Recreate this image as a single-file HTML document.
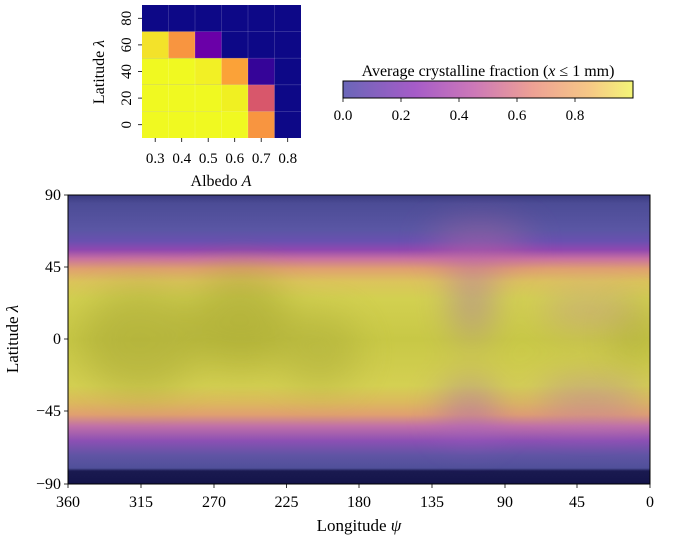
<!DOCTYPE html>
<html><head><style>
body{margin:0;background:#fff;width:684px;height:538px;overflow:hidden;font-family:"Liberation Serif",serif;}
</style></head><body>
<svg width="684" height="538" xmlns="http://www.w3.org/2000/svg" font-family="Liberation Serif, serif" fill="#000">
<defs>
<linearGradient id="cb" x1="0" x2="1" y1="0" y2="0">
<stop offset="0" stop-color="#6a66b8"/><stop offset="0.25" stop-color="#a65cc8"/><stop offset="0.45" stop-color="#cc78b8"/><stop offset="0.65" stop-color="#eda095"/><stop offset="0.85" stop-color="#f6c886"/><stop offset="1" stop-color="#f4f678"/>
</linearGradient>
<linearGradient id="lat" x1="0" x2="0" y1="0" y2="1">
<stop offset="0" stop-color="#3a3a80"/>
<stop offset="0.03" stop-color="#4c4c96"/>
<stop offset="0.12" stop-color="#5a56a4"/>
<stop offset="0.16" stop-color="#6a50b0"/>
<stop offset="0.19" stop-color="#9048b0"/>
<stop offset="0.22" stop-color="#c870a0"/>
<stop offset="0.255" stop-color="#e0a070"/>
<stop offset="0.3" stop-color="#dcc45c"/>
<stop offset="0.36" stop-color="#d2d050"/>
<stop offset="0.5" stop-color="#c8c846"/>
<stop offset="0.66" stop-color="#d4d052"/>
<stop offset="0.72" stop-color="#dcb85e"/>
<stop offset="0.76" stop-color="#e0a070"/>
<stop offset="0.8" stop-color="#c070a8"/>
<stop offset="0.85" stop-color="#8c50b4"/>
<stop offset="0.9" stop-color="#6054a4"/>
<stop offset="0.945" stop-color="#50509a"/>
<stop offset="0.955" stop-color="#1a1a50"/>
<stop offset="1" stop-color="#14144a"/>
</linearGradient>
<filter id="bl" x="-50%" y="-50%" width="200%" height="200%"><feGaussianBlur stdDeviation="18"/></filter>
<clipPath id="mc"><rect x="68" y="195" width="582" height="289"/></clipPath>
</defs>

<g>
<rect x="142" y="5" width="159" height="133" fill="#0d0887"/>
<rect x="142" y="31.6" width="26.5" height="26.6" fill="#f3e22a"/>
<rect x="168.5" y="31.6" width="26.5" height="26.6" fill="#f89540"/>
<rect x="195" y="31.6" width="26.5" height="26.6" fill="#6a00a8"/>
<rect x="142" y="58.2" width="26.5" height="26.6" fill="#f0f921"/>
<rect x="168.5" y="58.2" width="26.5" height="26.6" fill="#f0f921"/>
<rect x="195" y="58.2" width="26.5" height="26.6" fill="#f2f025"/>
<rect x="221.5" y="58.2" width="26.5" height="26.6" fill="#fba238"/>
<rect x="248" y="58.2" width="26.5" height="26.6" fill="#350498"/>
<rect x="142" y="84.8" width="106" height="26.6" fill="#f0f921"/>
<rect x="221.5" y="84.8" width="26.5" height="26.6" fill="#f0f022"/>
<rect x="248" y="84.8" width="26.5" height="26.6" fill="#d8576b"/>
<rect x="142" y="111.4" width="106" height="26.6" fill="#f0f921"/>
<rect x="248" y="111.4" width="26.5" height="26.6" fill="#f89540"/>
<g stroke="#fff" stroke-opacity="0.25" stroke-width="0.6">
<line x1="168.5" y1="5" x2="168.5" y2="138"/><line x1="195" y1="5" x2="195" y2="138"/><line x1="221.5" y1="5" x2="221.5" y2="138"/><line x1="248" y1="5" x2="248" y2="138"/><line x1="274.5" y1="5" x2="274.5" y2="138"/>
<line x1="142" y1="31.6" x2="301" y2="31.6"/><line x1="142" y1="58.2" x2="301" y2="58.2"/><line x1="142" y1="84.8" x2="301" y2="84.8"/><line x1="142" y1="111.4" x2="301" y2="111.4"/>
</g>
<g stroke="#000" stroke-width="0.8">
<line x1="138" y1="18.3" x2="142" y2="18.3"/><line x1="138" y1="44.9" x2="142" y2="44.9"/><line x1="138" y1="71.5" x2="142" y2="71.5"/><line x1="138" y1="98.1" x2="142" y2="98.1"/><line x1="138" y1="124.7" x2="142" y2="124.7"/>
<line x1="155.2" y1="138" x2="155.2" y2="142"/><line x1="181.7" y1="138" x2="181.7" y2="142"/><line x1="208.2" y1="138" x2="208.2" y2="142"/><line x1="234.7" y1="138" x2="234.7" y2="142"/><line x1="261.2" y1="138" x2="261.2" y2="142"/><line x1="287.7" y1="138" x2="287.7" y2="142"/>
</g>
<g font-size="15" text-anchor="middle">
<text transform="translate(131,18.3) rotate(-90)">80</text>
<text transform="translate(131,44.9) rotate(-90)">60</text>
<text transform="translate(131,71.5) rotate(-90)">40</text>
<text transform="translate(131,98.1) rotate(-90)">20</text>
<text transform="translate(131,124.7) rotate(-90)">0</text>
<text x="155.2" y="163">0.3</text><text x="181.7" y="163">0.4</text><text x="208.2" y="163">0.5</text><text x="234.7" y="163">0.6</text><text x="261.2" y="163">0.7</text><text x="287.7" y="163">0.8</text>
<text x="221" y="186" font-size="16">Albedo <tspan font-style="italic">A</tspan></text>
<text transform="translate(104,72) rotate(-90)" font-size="16">Latitude <tspan font-style="italic">λ</tspan></text>
</g>
</g>

<text x="488" y="76" font-size="16" text-anchor="middle">Average crystalline fraction (<tspan font-style="italic">x</tspan> ≤ 1 mm)</text>
<rect x="343" y="81" width="290" height="17" fill="url(#cb)" stroke="#000" stroke-width="1"/>
<g stroke="#000" stroke-width="0.8">
<line x1="343" y1="98" x2="343" y2="102"/><line x1="401" y1="98" x2="401" y2="102"/><line x1="459" y1="98" x2="459" y2="102"/><line x1="517" y1="98" x2="517" y2="102"/><line x1="575" y1="98" x2="575" y2="102"/>
</g>
<g font-size="15" text-anchor="middle">
<text x="343" y="120">0.0</text><text x="401" y="120">0.2</text><text x="459" y="120">0.4</text><text x="517" y="120">0.6</text><text x="575" y="120">0.8</text>
</g>

<g clip-path="url(#mc)">
<rect x="68" y="195" width="582" height="289" fill="url(#lat)"/>
<g filter="url(#bl)" opacity="0.45">
<ellipse cx="140" cy="340" rx="60" ry="55" fill="#a0a030"/>
<ellipse cx="240" cy="320" rx="50" ry="50" fill="#9a9a2a"/>
<ellipse cx="320" cy="350" rx="40" ry="40" fill="#a8a838"/>
<ellipse cx="635" cy="335" rx="20" ry="30" fill="#a0a030"/>
</g>
<g filter="url(#bl)" opacity="0.45">
<ellipse cx="472" cy="300" rx="20" ry="40" fill="#a060c0"/>
<ellipse cx="470" cy="410" rx="30" ry="30" fill="#a060c0"/>
<ellipse cx="590" cy="310" rx="50" ry="15" fill="#c080b0"/>
<ellipse cx="590" cy="400" rx="55" ry="20" fill="#b070b8"/>
<ellipse cx="480" cy="245" rx="50" ry="22" fill="#c06a9a"/>
</g>
</g>
<rect x="68" y="195" width="582" height="289" fill="none" stroke="#000" stroke-width="1"/>
<g stroke="#000" stroke-width="0.8">
<line x1="64" y1="195" x2="68" y2="195"/><line x1="64" y1="267" x2="68" y2="267"/><line x1="64" y1="339" x2="68" y2="339"/><line x1="64" y1="411" x2="68" y2="411"/><line x1="64" y1="484" x2="68" y2="484"/>
<line x1="68" y1="484" x2="68" y2="488"/><line x1="141" y1="484" x2="141" y2="488"/><line x1="214" y1="484" x2="214" y2="488"/><line x1="286.5" y1="484" x2="286.5" y2="488"/><line x1="359" y1="484" x2="359" y2="488"/><line x1="432" y1="484" x2="432" y2="488"/><line x1="505" y1="484" x2="505" y2="488"/><line x1="577" y1="484" x2="577" y2="488"/><line x1="650" y1="484" x2="650" y2="488"/>
</g>
<g font-size="16" text-anchor="end">
<text x="61" y="200">90</text><text x="61" y="272">45</text><text x="61" y="344">0</text><text x="61" y="416">−45</text><text x="61" y="489">−90</text>
</g>
<g font-size="16" text-anchor="middle">
<text x="68" y="507">360</text><text x="141" y="507">315</text><text x="214" y="507">270</text><text x="286.5" y="507">225</text><text x="359" y="507">180</text><text x="432" y="507">135</text><text x="505" y="507">90</text><text x="577" y="507">45</text><text x="650" y="507">0</text>
<text x="359" y="531" font-size="17">Longitude <tspan font-style="italic">ψ</tspan></text>
<text transform="translate(18,339) rotate(-90)" font-size="17">Latitude <tspan font-style="italic">λ</tspan></text>
</g>
</svg>
</body></html>
